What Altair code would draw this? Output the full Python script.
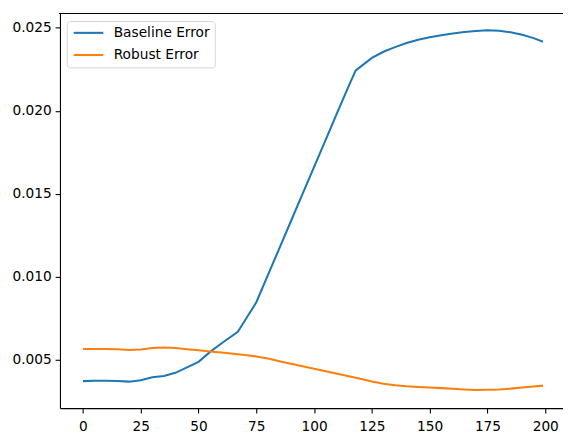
import altair as alt
import pandas as pd

steps = [0, 5, 10, 15, 20, 25, 30, 35, 40, 45, 50, 55, 60, 67, 70, 75, 80, 85, 90, 95,
         100, 105, 110, 115, 118, 120, 125, 130, 135, 140, 145, 150, 155, 160, 165, 170,
         175, 180, 185, 190, 195, 199]

baseline_error = [0.00372, 0.00374, 0.00374, 0.00373, 0.00369, 0.00378, 0.00396, 0.00403,
                  0.00422, 0.00455, 0.00488, 0.00548, 0.00600, 0.00669, 0.00736, 0.00847,
                  0.01010, 0.01173, 0.01336, 0.01499, 0.01662, 0.01825, 0.01988, 0.02150,
                  0.02243, 0.02264, 0.02318, 0.02355, 0.02383, 0.02408, 0.02427, 0.02442,
                  0.02455, 0.02465, 0.02474, 0.02480, 0.02484, 0.02481, 0.02472, 0.02457,
                  0.02437, 0.02415]

robust_error = [0.00566, 0.00566, 0.00565, 0.00564, 0.00560, 0.00563, 0.00571, 0.00574,
                0.00571, 0.00564, 0.00558, 0.00551, 0.00544, 0.00534, 0.00530, 0.00521,
                0.00508, 0.00492, 0.00477, 0.00462, 0.00446, 0.00432, 0.00417, 0.00402,
                0.00392, 0.00386, 0.00370, 0.00356, 0.00347, 0.00341, 0.00337, 0.00334,
                0.00330, 0.00326, 0.00322, 0.00319, 0.00320, 0.00322, 0.00327, 0.00334,
                0.00340, 0.00345]

series_names = ["Baseline Error", "Robust Error"]
series_colors = ["#1f77b4", "#ff7f0e"]
x_ticks = [0, 25, 50, 75, 100, 125, 150, 175, 200]
y_ticks = [0.005, 0.010, 0.015, 0.020, 0.025]

rows = []
for name, vals in zip(series_names, [baseline_error, robust_error]):
    for s, v in zip(steps, vals):
        rows.append({"step": s, "error": v, "series": name})
df = pd.DataFrame(rows)

W, H = 510, 400
FONT = "DejaVu Sans"

lines = alt.Chart(df).mark_line(strokeWidth=2.08).encode(
    x=alt.X("step:Q",
            scale=alt.Scale(domain=[-9.95, 207.67], nice=False, zero=False),
            axis=alt.Axis(values=x_ticks, title=None, grid=False, labelFlush=False,
                          labelPadding=7)),
    y=alt.Y("error:Q",
            scale=alt.Scale(domain=[0.002097, 0.025849], nice=False, zero=False),
            axis=alt.Axis(values=y_ticks, format=".3f", title=None, grid=False,
                          labelPadding=4)),
    color=alt.Color("series:N",
                    scale=alt.Scale(domain=series_names, range=series_colors),
                    legend=alt.Legend(title=None, orient="none", legendX=7, legendY=7.6,
                                      symbolType="M-1,0L5,0", symbolSize=100,
                                      symbolStrokeWidth=2.08, labelFontSize=13.9,
                                      labelFont=FONT, labelColor="#000000",
                                      labelOffset=28.6, padding=5, rowPadding=7.5,
                                      fillColor="rgba(255,255,255,0.8)",
                                      strokeColor="#d5d5d5", cornerRadius=3)),
    order="step:Q",
)

top_spine = alt.Chart(df).mark_rule(color="#000000", strokeWidth=1.1).encode(
    x=alt.value(0), x2=alt.value(W), y=alt.value(0)
)

chart = alt.layer(lines, top_spine).properties(
    width=W, height=H,
    autosize=alt.AutoSizeParams(type="none"),
    padding={"left": 52.68, "top": 2.7, "right": 0, "bottom": 24},
).configure_view(stroke=None).configure_axis(
    labelFont=FONT, labelFontSize=13.9, labelColor="#000000",
    domainColor="#000000", domainWidth=1.1,
    tickColor="#000000", tickWidth=1.1, tickSize=4.9,
)

chart.save("out.html", embed_options={"renderer": "svg", "actions": False})
